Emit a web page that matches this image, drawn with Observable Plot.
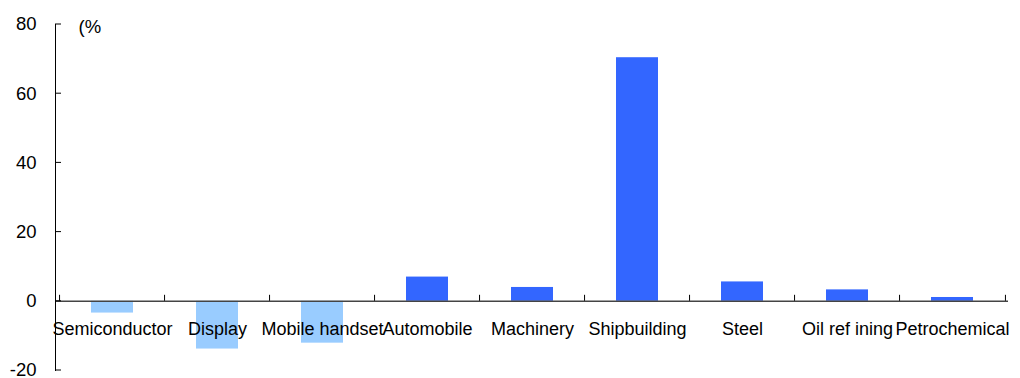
<!DOCTYPE html>
<html>
<head>
<meta charset="utf-8">
<script src="https://cdn.jsdelivr.net/npm/d3@7"></script>
<script src="https://cdn.jsdelivr.net/npm/@observablehq/plot@0.6"></script>
<style>
  html, body { margin: 0; padding: 0; background: #fff; }
  #chart svg { display: block; }
</style>
</head>
<body>
<div id="chart"></div>
<script>
// Year-on-year change by industry (%)
const industries = ["Semiconductor", "Display", "Mobile handset", "Automobile", "Machinery", "Shipbuilding", "Steel", "Oil ref ining", "Petrochemical"];
const changes = [-3.4, -13.8, -12.1, 7.0, 4.0, 70.4, 5.6, 3.3, 1.1];
const yTicks = [-20, 0, 20, 40, 60, 80];

const data = industries.map((name, i) => ({name, value: changes[i]}));

const width = 1020, height = 378;
const margin = {top: 24, right: 12, bottom: 8, left: 55};
// one band per industry; boundary ticks sit half a step either side of a band centre
const step = (width - margin.left - margin.right) / industries.length;
const font = "'Liberation Sans', Arial, sans-serif";

const chart = Plot.plot({
  width, height,
  marginTop: margin.top, marginRight: margin.right,
  marginBottom: margin.bottom, marginLeft: margin.left,
  style: {fontFamily: font, background: "#fff", color: "#000"},
  x: {domain: industries, paddingInner: 0.6, paddingOuter: 0.3, axis: null},
  y: {domain: [-20, 80], axis: null},
  marks: [
    Plot.barY(data, {
      x: "name", y: "value",
      fill: d => d.value < 0 ? "#99CCFF" : "#3366FF"
    }),
    // zero baseline with category boundary ticks
    Plot.ruleY([0], {stroke: "#444", strokeWidth: 1.5}),
    Plot.ruleX(industries, {x: d => d, y1: 0, y2: 0, dx: -step / 2, stroke: "#000", strokeWidth: 1, insetTop: -6}),
    Plot.ruleX(industries.slice(-1), {x: d => d, y1: 0, y2: 0, dx: step / 2, stroke: "#000", strokeWidth: 1, insetTop: -6}),
    // value axis: line and labels
    Plot.frame({anchor: "left", stroke: "#000"}),
    Plot.axisY(yTicks, {tickSize: 0, tickPadding: 19, fontSize: 18.5, label: null, fill: "#000", tickFormat: d => String(d)}),
    Plot.text(["(%"], {frameAnchor: "top-left", lineAnchor: "middle", dx: 23, dy: 3, textAnchor: "start", fontSize: 18.5, fill: "#000"}),
    // category labels below the baseline
    Plot.text(industries, {x: d => d, y: 0, dy: 28, fontSize: 18, fill: "#000"})
  ]
});

// inward ticks on the value axis, placed with the chart's own y scale
const yScale = chart.scale("y");
d3.select(chart).append("g")
  .attr("stroke", "#000")
  .selectAll("line")
  .data(yTicks)
  .join("line")
  .attr("x1", margin.left).attr("x2", margin.left + 6)
  .attr("y1", d => yScale.apply(d)).attr("y2", d => yScale.apply(d));

document.getElementById("chart").append(chart);
</script>
</body>
</html>
